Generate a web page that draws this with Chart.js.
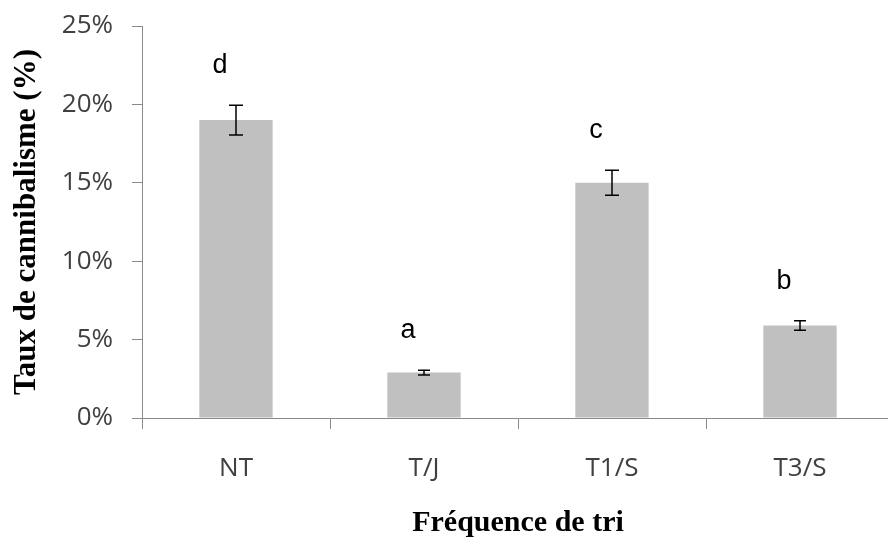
<!DOCTYPE html>
<html>
<head>
<meta charset="utf-8">
<script src="https://cdn.jsdelivr.net/npm/chart.js@4.4.0/dist/chart.umd.min.js"></script>
<style>
  html, body { margin: 0; padding: 0; background: #fff; overflow: hidden; }
  #wrap { width: 888px; height: 538px; overflow: hidden; position: relative; }
  canvas { position: absolute; left: 0; top: 0; }
</style>
</head>
<body>
<div id="wrap"><canvas id="chart" width="900" height="538"></canvas></div>
<script>
const categories = ['NT', 'T/J', 'T1/S', 'T3/S'];
const rates = [19.0, 2.9, 15.0, 5.9];       // %
const errors = [0.95, 0.15, 0.8, 0.3];      // +/- %
const letters = ['d', 'a', 'c', 'b'];
const yTicks = [0, 5, 10, 15, 20, 25];

// error bars and significance letters drawn over the bars
const extras = {
  id: 'extras',
  afterDatasetsDraw(chart) {
    const ctx = chart.ctx;
    const y = chart.scales.y;
    const bars = chart.getDatasetMeta(0).data;
    ctx.save();
    bars.forEach((bar, i) => {
      const top = y.getPixelForValue(rates[i] + errors[i]);
      const bot = y.getPixelForValue(rates[i] - errors[i]);
      const cap = errors[i] < 0.5 ? 6 : 7;
      ctx.strokeStyle = '#000';
      ctx.lineWidth = 1.5;
      ctx.beginPath();
      ctx.moveTo(bar.x, top); ctx.lineTo(bar.x, bot);
      ctx.moveTo(bar.x - cap, top); ctx.lineTo(bar.x + cap, top);
      ctx.moveTo(bar.x - cap, bot); ctx.lineTo(bar.x + cap, bot);
      ctx.stroke();

      ctx.fillStyle = '#000';
      ctx.font = '27px "Liberation Sans", Arial, sans-serif';
      ctx.textAlign = 'center';
      ctx.textBaseline = 'alphabetic';
      ctx.fillText(letters[i], bar.x - 16, top - 32);
    });
    ctx.restore();
  }
};

new Chart(document.getElementById('chart'), {
  type: 'bar',
  data: {
    labels: categories,
    datasets: [{
      data: rates,
      backgroundColor: '#c0c0c0',
      borderWidth: 0,
      barPercentage: 0.39,
      categoryPercentage: 1.0
    }]
  },
  options: {
    responsive: false,
    animation: false,
    layout: { padding: { left: 0, top: 26, right: 6, bottom: 0 } },
    plugins: { legend: { display: false }, tooltip: { enabled: false } },
    scales: {
      x: {
        afterFit: s => { s.height = 120; },
        grid: { drawOnChartArea: false, drawTicks: true, tickLength: 11, color: '#8a8a8a', offset: true },
        border: { color: '#8a8a8a', width: 1 },
        ticks: { color: '#404040', padding: 24, font: { family: '"Open Sans", sans-serif', size: 26 } },
        title: {
          display: true,
          text: 'Fréquence de tri',
          color: '#000',
          padding: { top: 0, bottom: 0 },
          font: { family: '"Liberation Serif", "Times New Roman", serif', size: 30, weight: 'bold', lineHeight: 1 }
        }
      },
      y: {
        min: 0,
        max: 25,
        afterFit: s => { s.width = 142; s.paddingTop = 0; s.paddingBottom = 0; },
        afterBuildTicks: s => { s.ticks = yTicks.map(v => ({ value: v })); },
        grid: { drawOnChartArea: false, drawTicks: true, tickLength: 10, color: '#8a8a8a' },
        border: { color: '#8a8a8a', width: 1 },
        ticks: {
          color: '#404040',
          padding: 19,
          font: { family: '"Open Sans", sans-serif', size: 26 },
          callback: v => v + '%'
        },
        title: {
          display: true,
          text: 'Taux de cannibalisme (%)',
          color: '#000',
          padding: { top: 11, bottom: 0 },
          font: { family: '"Liberation Serif", "Times New Roman", serif', size: 31, weight: 'bold', lineHeight: 1 }
        }
      }
    }
  },
  plugins: [extras]
});
</script>
</body>
</html>
